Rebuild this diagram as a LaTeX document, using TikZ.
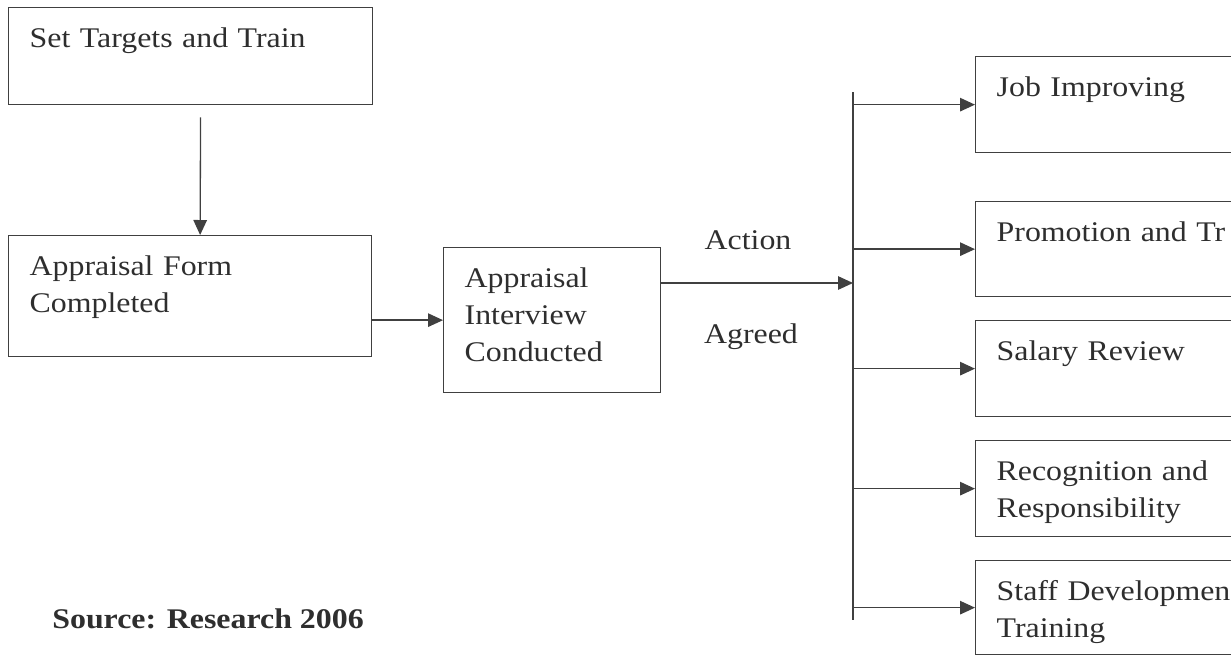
\documentclass[tikz,border=0pt]{standalone}
\usepackage{fontspec}
\setmainfont{Liberation Serif}[FakeStretch=1.12]
\usetikzlibrary{arrows.meta}

\begin{document}
\begin{tikzpicture}[
  x=0.02cm,
  y=-0.02cm,
  font=\fontsize{16.2}{21}\selectfont,
  every node/.style={text=black!82},
  stagebox/.style={
    draw=black!75,
    line width=0.75pt,
    anchor=north west,
    align=left,
    inner xsep=0.42cm,
    inner ysep=0pt,
    text height=0.8cm
  },
  flow/.style={draw=black!75, line width=0.75pt, -{Triangle[length=0.3cm,width=0.27cm]}},
  busline/.style={draw=black!75, line width=0.75pt},
  note/.style={inner sep=0pt, anchor=base},
  source/.style={inner sep=0pt, anchor=base west, font=\fontsize{16.2}{21}\selectfont\bfseries}
]
\clip (0,0) rectangle (1231,656);

% Appraisal steps.
\node[stagebox, text width=6.44cm, text depth=1.14cm] (st) at (8,7) {Set Targets and Train};
\node[stagebox, text width=6.42cm, text depth=1.62cm] (fc) at (8,235) {Appraisal Form\\Completed};
\node[stagebox, text width=3.5cm, text depth=2.1cm] (ib) at (443,247) {Appraisal\\Interview\\Conducted};

% Outcomes, cut off at the right margin.
\node[stagebox, text width=5.16cm, text depth=1.12cm] (job) at (975,56) {Job Improving};
\node[stagebox, text width=5.16cm, text depth=1.10cm] (prom) at (975,201) {Promotion and Tr};
\node[stagebox, text width=5.16cm, text depth=1.12cm] (sal) at (975,320) {Salary Review};
\node[stagebox, text width=5.16cm, text depth=1.12cm] (rec) at (975,440) {Recognition and\\Responsibility};
\node[stagebox, text width=5.16cm, text depth=1.08cm] (staff) at (975,560) {Staff Developmen\\Training};

\node[note] (action) at (748,249) {Action};
\node[note] (agreed) at (751,343) {Agreed};
\node[source] (src) at (52,628) {Source: Research 2006};

\coordinate (bustop) at (853,92);
\coordinate (busbot) at (853,620);
\coordinate (busin) at (853,283);

\draw[flow, shorten <=0.24cm] ([xshift=0.2cm]st.south) -- ([xshift=0.2cm]fc.north);
\draw[flow] (ib.west -| fc.east) -- (ib.west);
\draw[flow] (ib.east |- busin) -- (busin);
\draw[busline] (bustop) -- (busbot);
\foreach \b in {job,prom,sal,rec,staff}
  \draw[flow] (\b.west -| bustop) -- (\b.west);

\end{tikzpicture}
\end{document}
